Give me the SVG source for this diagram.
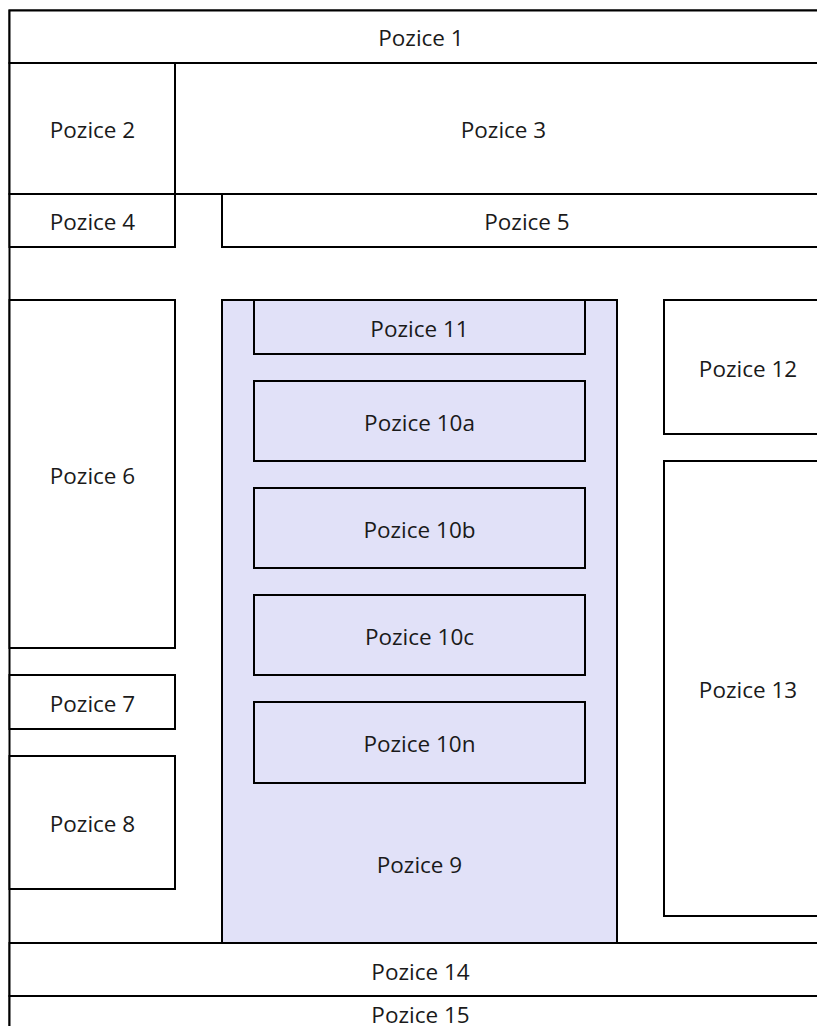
<svg xmlns="http://www.w3.org/2000/svg" width="817" height="1026" viewBox="0 0 817 1026">
<style>
.b{fill:#ffffff;stroke:#000000;stroke-width:2}
.p{fill:#e1e1f8;stroke:#000000;stroke-width:2}
text{font-family:"Open Sans","Noto Sans","Liberation Sans",sans-serif;font-size:22.5px;fill:#1a1a1a;text-anchor:middle}
</style>
<rect width="817" height="1026" fill="#ffffff"/>
<g id="frame"><rect class="b" x="9.5" y="10.5" width="822.5" height="1040"/></g>
<g id="pozice1"><rect class="b" x="9.5" y="10.5" width="822.5" height="52.5"/><text x="421" y="46">Pozice 1</text></g>
<g id="pozice2"><rect class="b" x="9.5" y="63" width="165.5" height="131"/><text x="92.5" y="138">Pozice 2</text></g>
<g id="pozice3"><rect class="b" x="175" y="63" width="657" height="131"/><text x="503.5" y="138">Pozice 3</text></g>
<g id="pozice4"><rect class="b" x="9.5" y="194" width="165.5" height="53"/><text x="92.5" y="230">Pozice 4</text></g>
<g id="pozice5"><rect class="b" x="222" y="194" width="610" height="53"/><text x="527" y="230">Pozice 5</text></g>
<g id="pozice6"><rect class="b" x="9.5" y="300" width="165.5" height="348"/><text x="92.5" y="483.5">Pozice 6</text></g>
<g id="pozice7"><rect class="b" x="9.5" y="675" width="165.5" height="54"/><text x="92.5" y="711.5">Pozice 7</text></g>
<g id="pozice8"><rect class="b" x="9.5" y="756" width="165.5" height="133"/><text x="92.5" y="832">Pozice 8</text></g>
<g id="pozice9"><rect class="p" x="222" y="300" width="395" height="643"/><text x="419.5" y="873">Pozice 9</text></g>
<g id="pozice11"><rect class="p" x="254" y="300" width="331" height="54"/><text x="419.5" y="336.5">Pozice 11</text></g>
<g id="pozice10a"><rect class="p" x="254" y="381" width="331" height="80"/><text x="419.5" y="430.5">Pozice 10a</text></g>
<g id="pozice10b"><rect class="p" x="254" y="488" width="331" height="80"/><text x="419.5" y="537.5">Pozice 10b</text></g>
<g id="pozice10c"><rect class="p" x="254" y="595" width="331" height="80"/><text x="419.5" y="644.5">Pozice 10c</text></g>
<g id="pozice10n"><rect class="p" x="254" y="702" width="331" height="81"/><text x="419.5" y="752">Pozice 10n</text></g>
<g id="pozice12"><rect class="b" x="664" y="300" width="168" height="134"/><text x="748" y="376.5">Pozice 12</text></g>
<g id="pozice13"><rect class="b" x="664" y="461" width="168" height="455"/><text x="748" y="698">Pozice 13</text></g>
<g id="pozice14"><rect class="b" x="9.5" y="943" width="822.5" height="53"/><text x="420.5" y="979.5">Pozice 14</text></g>
<g id="pozice15"><rect class="b" x="9.5" y="996" width="822.5" height="54"/><text x="420.5" y="1023">Pozice 15</text></g>
<g id="connectors"></g>
</svg>
